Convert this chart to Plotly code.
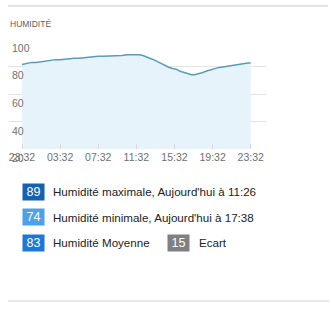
import plotly.graph_objects as go

W, H = 331, 309

# ---- data ----
hours = [0, 0.3, 0.6, 1.0, 1.5, 2.0, 2.4, 3.0, 3.5, 4.0, 4.5, 5.0, 5.5, 6.0, 6.5, 7.0,
         7.5, 8.0, 8.5, 9.0, 9.5, 10.0, 10.5, 11.0, 11.5, 11.9, 12.3, 12.7, 13.0, 13.4,
         13.8, 14.2, 14.6, 15.0, 15.4, 15.8, 16.2, 16.6, 17.0, 17.4, 17.8, 18.1, 18.5,
         18.9, 19.3, 19.7, 20.1, 20.5, 20.9, 21.3, 21.7, 22.1, 22.5, 22.9, 23.3, 23.7, 24.0]
humidity = [81.5, 82, 82.5, 83, 83, 83.5, 84, 84.5, 85, 85, 85.5, 86, 86, 86, 86.5, 86.5,
            87, 87.5, 87.5, 87.5, 87.5, 87.5, 88, 88.5, 88.5, 89, 88.5, 88, 87, 86,
            85, 83.5, 82, 80.5, 79.5, 78.5, 78, 76.5, 75.5, 75, 74, 74, 74.5,
            75.5, 76.5, 77.5, 78.5, 79, 79.5, 80, 80.5, 81, 81.5, 82, 82.5, 82.5, 82.5]

x_tickvals = [0, 4, 8, 12, 16, 20, 24]
x_ticktext = ["23:32", "03:32", "07:32", "11:32", "15:32", "19:32", "23:32"]
y_tickvals = [20, 40, 60, 80, 100]

title = "HUMIDITÉ"
stat_values = [89, 74, 83, 15]
stat_labels = ["Humidité maximale, Aujourd'hui à 11:26",
               "Humidité minimale, Aujourd'hui à 17:38",
               "Humidité Moyenne", "Ecart"]
stat_colors = ["#1561b2", "#4ba2ea", "#1a79d8", "#808080"]

# ---- layout helpers ----
def px_x(p):
    return p / W

def px_y(p):
    return 1 - p / H

fig = go.Figure()
fig.add_trace(go.Scatter(
    x=hours, y=humidity, mode="lines",
    line=dict(color="#5b9bb5", width=1.5),
    fill="tozeroy", fillcolor="#e6f3fb",
    hoverinfo="skip", showlegend=False))

font = "Liberation Sans, Arial, sans-serif"

fig.update_layout(
    width=W, height=H,
    margin=dict(l=0, r=0, t=0, b=0),
    paper_bgcolor="white", plot_bgcolor="white",
    showlegend=False,
    font=dict(family=font),
    xaxis=dict(
        domain=[px_x(8), px_x(266)],
        range=[(8 - 22) / 9.53, (266 - 22) / 9.53],
        tickvals=x_tickvals, ticktext=x_ticktext,
        ticks="inside", ticklen=5, tickcolor="#d8d8d8",
        showgrid=False, zeroline=False,
        showline=False,
        tickfont=dict(size=10.5, color="#707070"),
        fixedrange=True,
    ),
    yaxis=dict(
        domain=[px_y(149), px_y(39)],
        range=[20, 100],
        tickvals=y_tickvals,
        showticklabels=False,
        showgrid=True, gridcolor="#e3e3e3", gridwidth=1,
        zeroline=False, showline=False,
        fixedrange=True,
    ),
)

annotations = []
# y labels drawn just below each gridline
for v in y_tickvals:
    annotations.append(dict(
        x=px_x(10), xref="paper", y=v, yref="y",
        text=str(v), showarrow=False, xanchor="left", yanchor="top",
        yshift=-1, font=dict(size=10.5, color="#707070")))

# title
annotations.append(dict(
    x=px_x(8), y=px_y(24), xref="paper", yref="paper",
    text=title, showarrow=False, xanchor="left", yanchor="middle",
    font=dict(size=8.5, color="#606060")))

# stats legend
box_pos = [(33.5, 191.7), (33.5, 217.3), (33.5, 242.7), (178.5, 242.7)]
text_pos = [(51, 191.7), (51, 217.3), (51, 242.7), (197, 242.7)]
for val, lab, col, (bx, by), (tx, ty) in zip(stat_values, stat_labels, stat_colors,
                                             box_pos, text_pos):
    annotations.append(dict(
        x=px_x(bx), y=px_y(by), xref="paper", yref="paper",
        text=str(val), showarrow=False, xanchor="center", yanchor="middle",
        bgcolor=col, width=20, height=15, borderpad=0.5,
        font=dict(size=12.5, color="white")))
    annotations.append(dict(
        x=px_x(tx), y=px_y(ty), xref="paper", yref="paper",
        text=lab, showarrow=False, xanchor="left", yanchor="middle",
        font=dict(size=11.6, color="#222")))

fig.update_layout(annotations=annotations)

# separator lines
fig.add_shape(type="line", xref="paper", yref="paper",
              x0=px_x(8), x1=px_x(328), y0=px_y(6), y1=px_y(6),
              line=dict(color="#c8c8c8", width=1.2))
fig.add_shape(type="line", xref="paper", yref="paper",
              x0=px_x(8), x1=px_x(329), y0=px_y(301), y1=px_y(301),
              line=dict(color="#d4d4d4", width=1.2))

fig.write_html("out.html", config={"displayModeBar": False})
